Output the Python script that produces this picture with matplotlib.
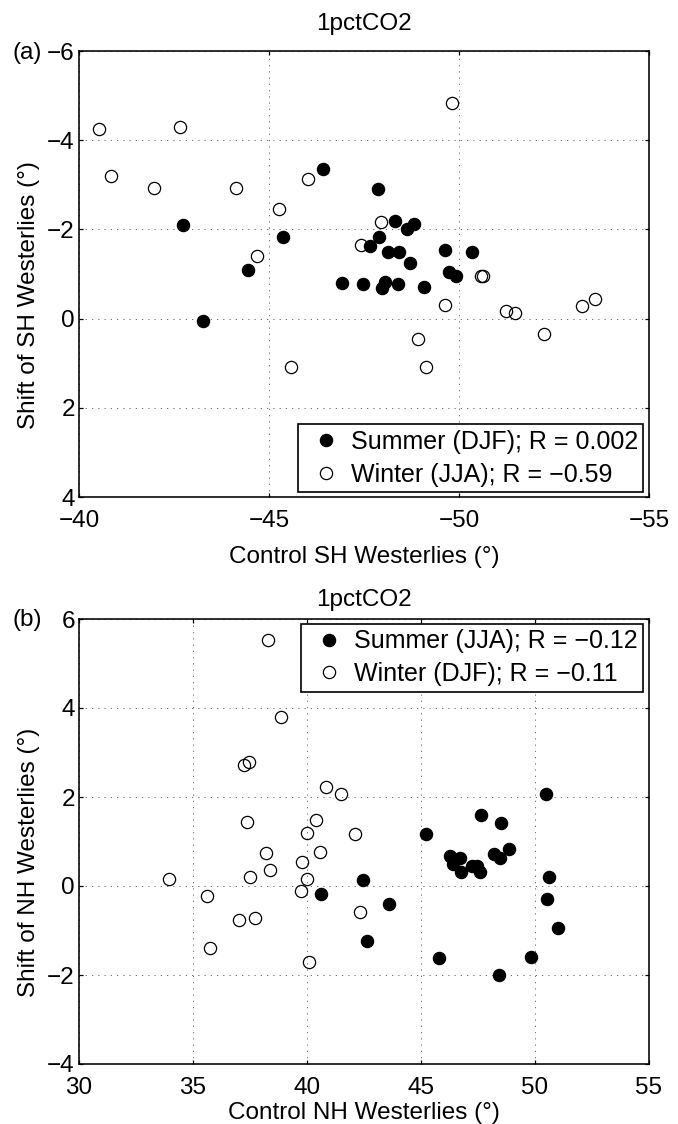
import matplotlib
matplotlib.use("Agg")
import matplotlib.pyplot as plt
from matplotlib.lines import Line2D

plt.rcParams['font.family'] = ['Liberation Sans', 'DejaVu Sans']
FS = 17.5
FS_LEG = 18

# ---------------- Southern Hemisphere (panel a) ----------------
sh_summer_ctrl = [-46.41, -47.87, -42.74, -45.37, -48.31, -48.63, -48.81, -47.90,
                  -47.67, -48.12, -48.42, -48.70, -49.64, -50.34, -49.73, -49.93,
                  -44.46, -46.91, -47.48, -48.05, -47.98, -48.40, -49.07, -43.25]
sh_summer_shift = [-3.36, -2.90, -2.09, -1.84, -2.19, -2.00, -2.11, -1.84,
                   -1.63, -1.49, -1.49, -1.24, -1.53, -1.49, -1.04, -0.95,
                   -1.09, -0.79, -0.77, -0.82, -0.69, -0.77, -0.71, 0.05]
sh_winter_ctrl = [-40.52, -42.65, -49.81, -40.83, -41.97, -44.14, -46.03, -45.25,
                  -47.94, -47.41, -44.68, -50.59, -50.64, -49.64, -51.23, -51.48,
                  -53.23, -53.57, -52.23, -48.91, -49.13, -45.59]
sh_winter_shift = [-4.24, -4.29, -4.83, -3.19, -2.93, -2.93, -3.12, -2.45,
                   -2.17, -1.66, -1.40, -0.96, -0.96, -0.30, -0.16, -0.12,
                   -0.28, -0.45, 0.35, 0.46, 1.09, 1.09]
sh_labels = ["Summer (DJF); R = 0.002", "Winter (JJA); R = \u22120.59"]
sh_xticks = [-40, -45, -50, -55]
sh_yticks = [-6, -4, -2, 0, 2, 4]

# ---------------- Northern Hemisphere (panel b) ----------------
nh_summer_ctrl = [50.48, 47.64, 48.51, 45.23, 48.87, 48.18, 48.47, 46.27,
                  46.71, 46.39, 46.74, 47.22, 47.47, 47.59, 50.63, 42.45,
                  40.61, 43.59, 50.51, 51.03, 42.64, 45.80, 49.83, 48.40]
nh_summer_shift = [2.07, 1.60, 1.41, 1.17, 0.83, 0.73, 0.64, 0.68,
                   0.62, 0.49, 0.32, 0.45, 0.45, 0.31, 0.21, 0.13,
                   -0.19, -0.41, -0.30, -0.95, -1.24, -1.61, -1.59, -2.01]
nh_winter_ctrl = [38.31, 38.84, 37.22, 37.45, 40.84, 41.50, 37.38, 40.38,
                  39.98, 42.09, 38.19, 40.59, 39.79, 38.38, 37.51, 33.95,
                  39.98, 39.73, 35.61, 37.03, 37.70, 42.34, 35.76, 40.10]
nh_winter_shift = [5.53, 3.79, 2.71, 2.79, 2.23, 2.06, 1.43, 1.48,
                   1.20, 1.17, 0.75, 0.76, 0.55, 0.36, 0.21, 0.16,
                   0.16, -0.11, -0.22, -0.76, -0.73, -0.59, -1.40, -1.70]
nh_labels = ["Summer (JJA); R = \u22120.12", "Winter (DJF); R = \u22120.11"]
nh_xticks = [30, 35, 40, 45, 50, 55]
nh_yticks = [-4, -2, 0, 2, 4, 6]

W, H = 678, 1124
fig = plt.figure(figsize=(W / 100, H / 100), dpi=100)

MS = 8.8
filled = dict(ls='none', marker='o', markersize=MS, markerfacecolor='black',
              markeredgecolor='black', markeredgewidth=0.9)
hollow = dict(ls='none', marker='o', markersize=MS, markerfacecolor='none',
              markeredgecolor='black', markeredgewidth=0.9)


def style_axes(ax, xticks, yticks):
    ax.set_xticks(xticks)
    ax.set_yticks(yticks)
    ax.tick_params(direction='in', length=3, width=0.9, top=True, right=True,
                   labelsize=FS, colors='black')
    ax.tick_params(axis='x', pad=9.5)
    ax.tick_params(axis='y', pad=3)
    for s in ax.spines.values():
        s.set_linewidth(1.15)
    ax.grid(True, color='0.35', linestyle=(0, (1.5, 6)), linewidth=0.6)
    ax.set_axisbelow(True)


def add_legend(ax, labels, bbox, loc):
    handles = [Line2D([], [], **filled), Line2D([], [], **hollow)]
    leg = ax.legend(handles, labels, loc=loc, bbox_to_anchor=bbox, mode='expand',
                    borderaxespad=0, fancybox=False, framealpha=1,
                    edgecolor='black', fontsize=FS_LEG, handlelength=1.8,
                    handletextpad=0.1, borderpad=0.22, labelspacing=0.35)
    leg.get_frame().set_linewidth(1.2)


# Panel (a)
ax1 = fig.add_axes([79 / W, 1 - 497 / H, 570 / W, 446 / H])
ax1.plot(sh_winter_ctrl, sh_winter_shift, **hollow)
ax1.plot(sh_summer_ctrl, sh_summer_shift, **filled)
ax1.set_xlim(-40, -55)
ax1.set_ylim(4, -6)
style_axes(ax1, sh_xticks, sh_yticks)
ax1.set_title('1pctCO2', fontsize=FS, pad=15)
ax1.set_xlabel('Control SH Westerlies (\u00b0)', fontsize=FS)
ax1.xaxis.set_label_coords(0.5, -0.11)
ax1.set_ylabel('Shift of SH Westerlies (\u00b0)', fontsize=FS)
ax1.yaxis.set_label_coords(-0.068, 0.453)
add_legend(ax1, sh_labels, (0.384, 0.011, 0.605, 0.146), 'lower left')
fig.text(12 / W, 1 - 53 / H, '(a)', fontsize=FS, ha='left', va='center')

# Panel (b)
ax2 = fig.add_axes([79 / W, 1 - 1064 / H, 570 / W, 445 / H])
ax2.plot(nh_winter_ctrl, nh_winter_shift, **hollow)
ax2.plot(nh_summer_ctrl, nh_summer_shift, **filled)
ax2.set_xlim(30, 55)
ax2.set_ylim(-4, 6)
style_axes(ax2, nh_xticks, nh_yticks)
ax2.set_title('1pctCO2', fontsize=FS, pad=9.5)
ax2.set_xlabel('Control NH Westerlies (\u00b0)', fontsize=FS)
ax2.xaxis.set_label_coords(0.5, -0.085)
ax2.set_ylabel('Shift of NH Westerlies (\u00b0)', fontsize=FS)
ax2.yaxis.set_label_coords(-0.068, 0.452)
add_legend(ax2, nh_labels, (0.389, 0.845, 0.6, 0.144), 'upper left')
fig.text(12 / W, 1 - 620 / H, '(b)', fontsize=FS, ha='left', va='center')

fig.savefig('out.png', dpi=100)
